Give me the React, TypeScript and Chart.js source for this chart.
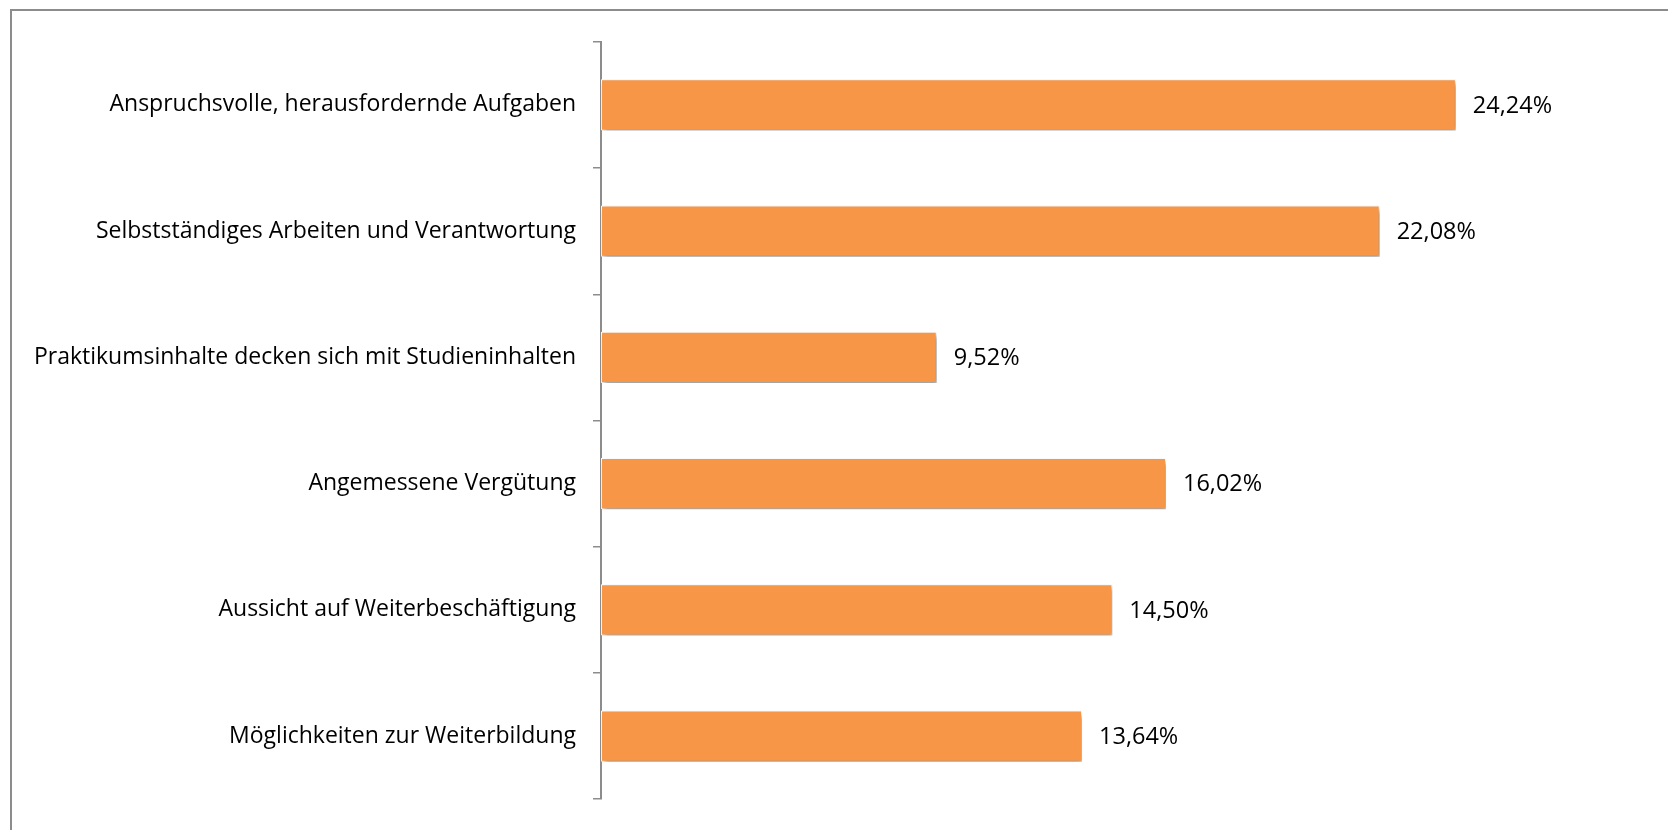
import React, { useEffect, useRef } from "react";
import { Chart, registerables } from "chart.js";

Chart.register(...registerables);

const categories = [
  "Anspruchsvolle, herausfordernde Aufgaben",
  "Selbstständiges Arbeiten und Verantwortung",
  "Praktikumsinhalte decken sich mit Studieninhalten",
  "Angemessene Vergütung",
  "Aussicht auf Weiterbeschäftigung",
  "Möglichkeiten zur Weiterbildung",
];
const values = [24.24, 22.08, 9.52, 16.02, 14.5, 13.64];

const FONT = "'Open Sans', 'Noto Sans', sans-serif";

const fmt = (v: number) => v.toFixed(2).replace(".", ",") + "%";

const shadowPlugin = {
  id: "barShadow",
  beforeDatasetsDraw(chart: any) {
    const ctx = chart.ctx;
    ctx.save();
    ctx.shadowColor = "rgba(0,0,0,0.45)";
    ctx.shadowBlur = 5;
    ctx.shadowOffsetX = 2;
    ctx.shadowOffsetY = 3;
  },
  afterDatasetsDraw(chart: any) {
    const ctx = chart.ctx;
    ctx.restore();
    const meta = chart.getDatasetMeta(0);
    ctx.save();
    ctx.font = `23.5px ${FONT}`;
    ctx.fillStyle = "#000";
    ctx.textAlign = "left";
    ctx.textBaseline = "middle";
    meta.data.forEach((bar: any, i: number) => {
      ctx.fillText(fmt(values[i]), bar.x + 17, bar.y + 1);
    });
    ctx.restore();
  },
};

export default function App() {
  const ref = useRef<HTMLCanvasElement | null>(null);
  useEffect(() => {
    if (!ref.current) return;
    const chart = new Chart(ref.current, {
      type: "bar",
      data: {
        labels: categories,
        datasets: [
          {
            data: values,
            backgroundColor: "#F79646",
            borderColor: "#ffffff",
            borderWidth: 1,
            borderSkipped: false,
            categoryPercentage: 1,
            barPercentage: 0.405,
          },
        ],
      },
      options: {
        indexAxis: "y",
        animation: false,
        responsive: false,
        maintainAspectRatio: false,
        layout: { padding: { top: 28, bottom: 22, right: 9, left: 0 } },
        plugins: { legend: { display: false }, tooltip: { enabled: false } },
        scales: {
          x: { display: false, min: 0, max: 30 },
          y: {
            afterFit(scale: any) {
              scale.width = 589;
            },
            grid: {
              drawOnChartArea: false,
              drawTicks: true,
              tickLength: 8,
              color: "#8c8c8c",
              lineWidth: 1.5,
              offset: true,
            },
            border: { display: true, color: "#8c8c8c", width: 2 },
            ticks: {
              color: "#000",
              padding: 17,
              font: { family: FONT, size: 23 },
            },
          },
        },
      },
      plugins: [shadowPlugin],
    });
    return () => chart.destroy();
  }, []);
  return (
    <div
      style={{
        position: "fixed",
        left: 0,
        top: 0,
        width: 1668,
        height: 830,
        overflow: "hidden",
        background: "#fff",
      }}
    >
      <div
        style={{
          position: "absolute",
          left: 10,
          top: 9,
          borderLeft: "2px solid #8c8c8c",
          borderTop: "2px solid #8c8c8c",
          width: 1656,
          height: 819,
        }}
      >
        <canvas ref={ref} width={1656} height={819} style={{ display: "block" }} />
      </div>
    </div>
  );
}
